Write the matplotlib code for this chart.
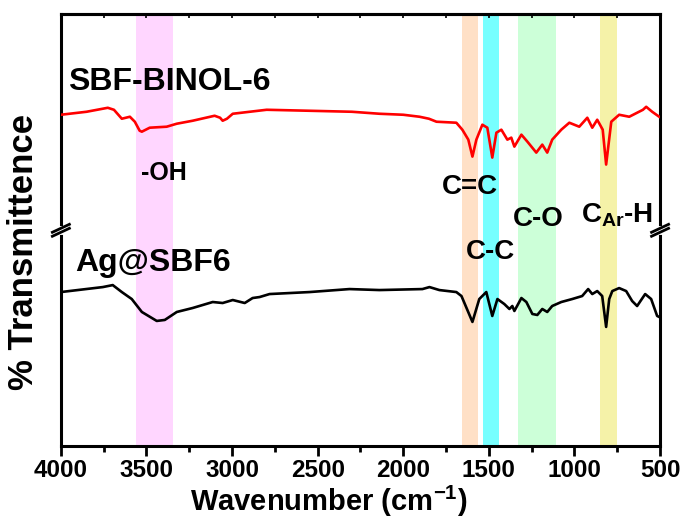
import matplotlib

matplotlib.use("Agg")
import matplotlib.pyplot as plt
from matplotlib.ticker import MultipleLocator

plt.rcParams.update({
    "font.family": ["Liberation Sans", "DejaVu Sans"],
    "font.weight": "bold",
    "mathtext.fontset": "custom",
    "mathtext.rm": "Liberation Sans:bold",
    "mathtext.bf": "Liberation Sans:bold",
    "mathtext.it": "Liberation Sans:bold",
})

# FTIR spectra, wavenumber (cm-1) vs transmittance (arbitrary units, offset)
wn_binol = [4000, 3850, 3726, 3690, 3644, 3597, 3568, 3540, 3527, 3481, 3382, 3323,
            3230, 3102, 3070, 3055, 3030, 2996, 2798, 2547, 2300, 2139, 2000, 1905,
            1850, 1806, 1690, 1655, 1620, 1596, 1573, 1538, 1509, 1480, 1456, 1427,
            1392, 1369, 1351, 1310, 1275, 1223, 1188, 1159, 1130, 1077, 1030, 972,
            925, 896, 867, 835, 815, 785, 739, 680, 600, 581, 546, 505]
t_binol = [333, 336, 340, 338, 329, 331, 326, 317, 316, 320, 321, 324,
           327, 332, 330, 327, 329, 334, 338, 337, 336, 334, 333, 331,
           329, 326, 325, 318, 308, 291, 308, 323, 320, 290, 315, 318,
           308, 310, 301, 313, 306, 295, 303, 295, 308, 318, 325, 321,
           330, 320, 328, 318, 283, 326, 333, 331, 338, 341, 336, 331]

wn_ag = [4000, 3755, 3697, 3644, 3586, 3527, 3440, 3393, 3323, 3230, 3113, 3055,
         2996, 2926, 2880, 2839, 2781, 2547, 2314, 2139, 1888, 1847, 1789, 1690,
         1660, 1596, 1556, 1515, 1480, 1450, 1410, 1380, 1363, 1351, 1310, 1281,
         1246, 1217, 1188, 1159, 1130, 1077, 1013, 955, 920, 896, 867, 838,
         815, 797, 779, 739, 698, 663, 634, 587, 552, 517, 505]
t_ag = [155, 160, 162, 155, 148, 135, 126, 127, 135, 139, 145, 144,
        147, 144, 149, 150, 153, 155, 158, 157, 158, 160, 157, 155,
        151, 125, 148, 155, 131, 148, 143, 138, 141, 136, 149, 145,
        133, 132, 138, 135, 141, 145, 148, 151, 158, 153, 156, 151,
        120, 148, 156, 159, 156, 146, 141, 153, 148, 131, 130]

# shaded assignment bands (cm-1)
band_lo = [3347, 1562, 1440, 1107, 751]
band_hi = [3562, 1655, 1533, 1328, 850]
band_colors = ["#FFD6FF", "#FFE0C6", "#77FFFF", "#CCFFD8", "#F5F2A8"]

fig = plt.figure(figsize=(6.84, 5.24), dpi=100)
ax = fig.add_axes([0.089, 0.148, 0.876, 0.825])

for lo, hi, c in zip(band_lo, band_hi, band_colors):
    ax.axvspan(lo, hi, color=c, lw=0, zorder=0)

ax.plot(wn_binol, t_binol, color="#FF0000", lw=1.9, zorder=3)
ax.plot(wn_ag, t_ag, color="black", lw=1.9, zorder=3)

ax.set_xlim(4000, 500)
ax.set_ylim(0, 434)
ax.xaxis.set_major_locator(MultipleLocator(500))
ax.xaxis.set_minor_locator(MultipleLocator(250))
ax.set_yticks([])
ax.tick_params(axis="x", which="major", direction="out", length=7, width=2,
               labelsize=17.5, pad=2)
ax.tick_params(axis="x", which="minor", direction="out", length=4, width=2)
for s in ax.spines.values():
    s.set_linewidth(2.2)

top = ax.secondary_xaxis("top")
top.xaxis.set_major_locator(MultipleLocator(500))
top.xaxis.set_minor_locator(MultipleLocator(250))
top.tick_params(which="both", direction="in", length=3, width=1.2, labeltop=False)
top.spines["top"].set_linewidth(2.2)

ax.set_xlabel("Wavenumber (cm$^{-1}$)", fontsize=21, fontweight="bold")
ax.xaxis.set_label_coords(0.447, -0.086)
ax.xaxis.label.set_va("top")
ax.set_ylabel("% Transmittence", fontsize=25, fontweight="bold")
ax.yaxis.set_label_coords(-0.035, 0.45)

# sample labels and band annotations
ax.text(3959, 358, "SBF-BINOL-6", fontsize=23, fontweight="bold", va="baseline")
ax.text(3918, 176, "Ag@SBF6", fontsize=23, fontweight="bold", va="baseline")
ax.text(3533, 267, "-OH", fontsize=18, fontweight="bold", va="baseline")
ax.text(1772, 253, "C=C", fontsize=20, fontweight="bold", va="baseline")
ax.text(1632, 188, "C-C", fontsize=20, fontweight="bold", va="baseline")
ax.text(1357, 221, "C-O", fontsize=20, fontweight="bold", va="baseline")
ax.text(961, 225, "C$_{\\mathregular{Ar}}$-H", fontsize=20, fontweight="bold",
        va="baseline")

# axis break marks on both y spines
yb, gap, dx, dy = 0.5, 0.0046, 0.0142, 0.0092
for x0 in (0, 1):
    ax.plot([x0, x0], [yb - gap, yb + gap], transform=ax.transAxes,
            color="white", lw=3.5, clip_on=False, zorder=10)
    for off in (-gap, gap):
        ax.plot([x0 - dx, x0 + dx], [yb + off - dy, yb + off + dy],
                transform=ax.transAxes, color="black", lw=2, clip_on=False,
                zorder=11)

fig.savefig("out.png", dpi=100)
